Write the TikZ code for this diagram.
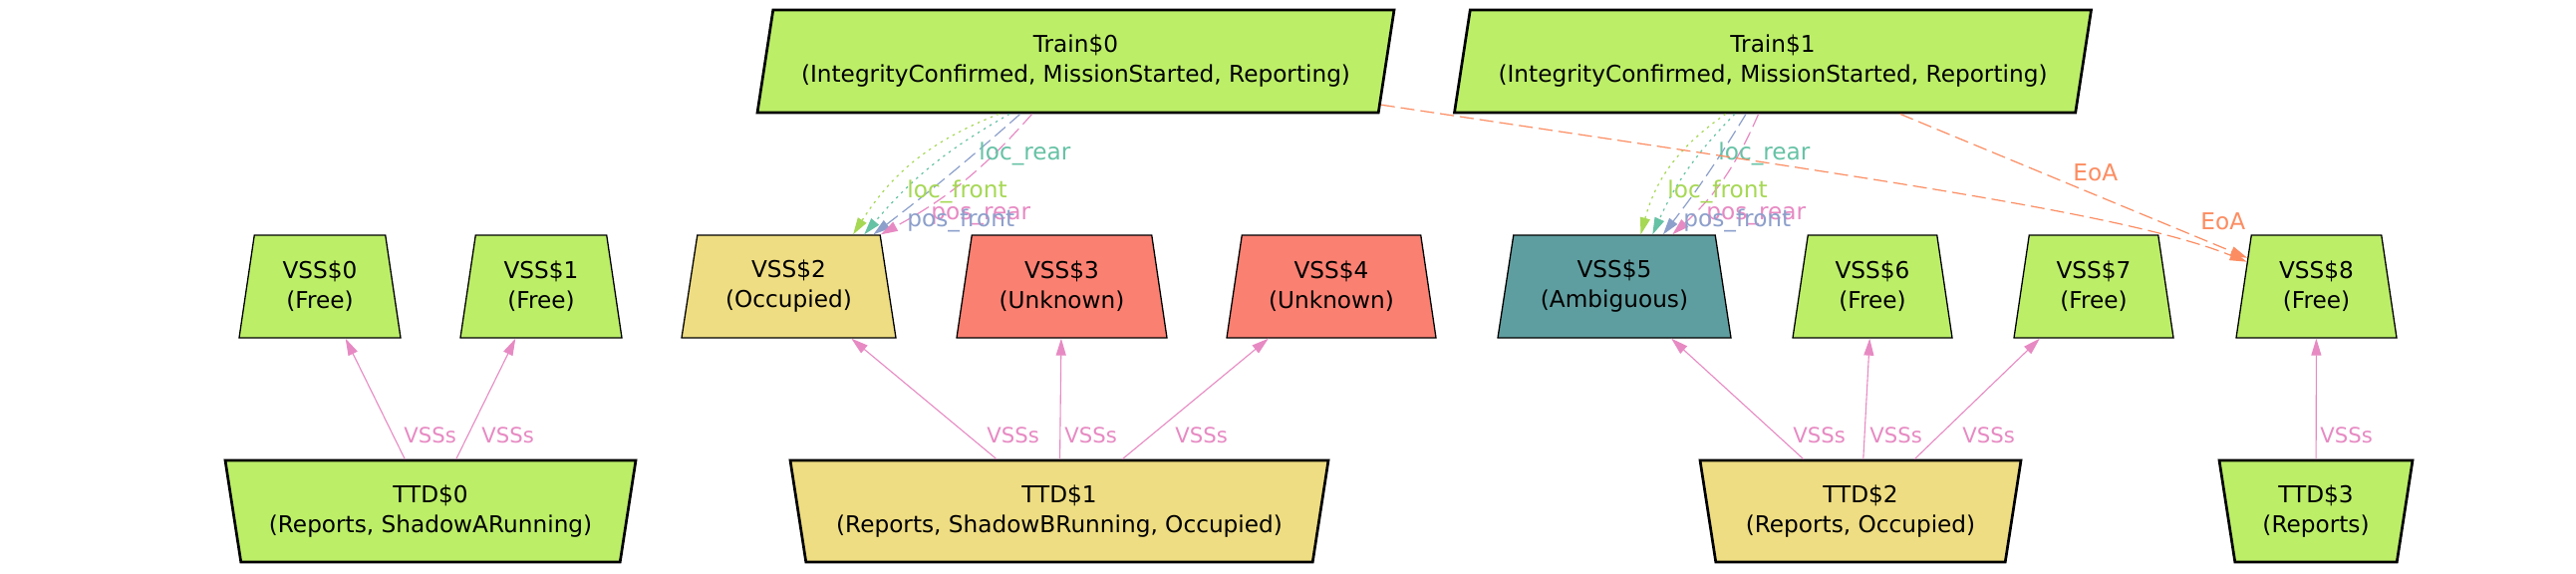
\documentclass[tikz,border=0pt]{standalone}
\usepackage{fontspec}
\setmainfont{DejaVu Sans}
\usetikzlibrary{shapes.geometric, arrows.meta, calc}

\definecolor{ngreen}{HTML}{BCEE68}
\definecolor{nyellow}{HTML}{EEDD82}
\definecolor{nsalmon}{HTML}{FA8072}
\definecolor{ncadet}{HTML}{5F9EA0}
\definecolor{cteal}{HTML}{66C2A5}
\definecolor{corange}{HTML}{FC8D62}
\definecolor{cblue}{HTML}{8DA0CB}
\definecolor{cpink}{HTML}{E78AC3}
\definecolor{cgreen}{HTML}{A6D854}

\tikzset{
  nodetext/.style={font=\fontsize{11.6}{15}\selectfont, align=center, inner sep=0pt, text=black},
  vssbox/.style={nodetext, draw=black, line width=0.65pt, shape=trapezium,
    trapezium left angle=73.25, trapezium right angle=73.25,
    trapezium stretches body, minimum height=51.5pt},
  ttdbox/.style={nodetext, draw=black, line width=1.35pt, shape=trapezium,
    trapezium left angle=106.75, trapezium right angle=106.75,
    trapezium stretches body, minimum height=51pt},
  trainbox/.style={nodetext, draw=black, line width=1.35pt, shape=trapezium,
    trapezium left angle=73.25, trapezium right angle=106.75,
    trapezium stretches body, minimum height=51.5pt},
  tip/.style={-{Triangle[length=8.5pt,width=5pt]}},
  vssedge/.style={tip, draw=cpink, line width=0.55pt},
  dotline/.style={tip, line width=0.6pt, dash pattern=on 1.2pt off 2.3pt},
  dashline/.style={tip, line width=0.6pt, dash pattern=on 7pt off 3pt},
  lbl/.style={font=\fontsize{11.6}{14}\selectfont, inner sep=0pt, anchor=base west},
  vsslbl/.style={lbl, font=\fontsize{10.6}{13}\selectfont, text=cpink},
}

\begin{document}
\begin{tikzpicture}[x=0.5pt, y=-0.5pt]
\useasboundingbox (0,0) rectangle (2585,575);
\fill[white] (0,0) rectangle (2585,575);

% Trains
\node[trainbox, fill=ngreen, minimum width=319.5pt] (train0) at (1079.5,61.5)
  {Train\$0\\(IntegrityConfirmed, MissionStarted, Reporting)};
\node[trainbox, fill=ngreen, minimum width=319.5pt] (train1) at (1779,61.5)
  {Train\$1\\(IntegrityConfirmed, MissionStarted, Reporting)};

% VSS
\node[vssbox, fill=ngreen,   minimum width=81pt]    (vss0) at (321,287.5)    {VSS\$0\\(Free)};
\node[vssbox, fill=ngreen,   minimum width=81pt]    (vss1) at (543,287.5)    {VSS\$1\\(Free)};
\node[vssbox, fill=nyellow,  minimum width=107.5pt] (vss2) at (791.5,287.5)  {VSS\$2\\(Occupied)};
\node[vssbox, fill=nsalmon,  minimum width=105.5pt] (vss3) at (1065.5,287.5) {VSS\$3\\(Unknown)};
\node[vssbox, fill=nsalmon,  minimum width=105pt]   (vss4) at (1336,287.5)   {VSS\$4\\(Unknown)};
\node[vssbox, fill=ncadet,   minimum width=117pt]   (vss5) at (1620,287.5)   {VSS\$5\\(Ambiguous)};
\node[vssbox, fill=ngreen,   minimum width=80pt]    (vss6) at (1879,287.5)   {VSS\$6\\(Free)};
\node[vssbox, fill=ngreen,   minimum width=80pt]    (vss7) at (2101,287.5)   {VSS\$7\\(Free)};
\node[vssbox, fill=ngreen,   minimum width=80.5pt]  (vss8) at (2324.5,287.5) {VSS\$8\\(Free)};

% TTD
\node[ttdbox, fill=ngreen,  minimum width=206pt] (ttd0) at (432,513)  {TTD\$0\\(Reports, ShadowARunning)};
\node[ttdbox, fill=nyellow, minimum width=270pt] (ttd1) at (1063,513) {TTD\$1\\(Reports, ShadowBRunning, Occupied)};
\node[ttdbox, fill=nyellow, minimum width=161pt] (ttd2) at (1867,513) {TTD\$2\\(Reports, Occupied)};
\node[ttdbox, fill=ngreen,  minimum width=97pt]  (ttd3) at (2324,513) {TTD\$3\\(Reports)};

% TTD -> VSS edges
\draw[vssedge] (ttd0) -- (vss0);
\draw[vssedge] (ttd0) -- (vss1);
\draw[vssedge] (ttd1) -- (vss2);
\draw[vssedge] (ttd1) -- (vss3);
\draw[vssedge] (ttd1) -- (vss4);
\draw[vssedge] (ttd2) -- (vss5);
\draw[vssedge] (ttd2) -- (vss6);
\draw[vssedge] (ttd2) -- (vss7);
\draw[vssedge] (ttd3) -- (vss8);

\node[vsslbl] (l00) at (405,444)  {VSSs};
\node[vsslbl] (l01) at (483,444)  {VSSs};
\node[vsslbl] (l12) at (990,444)  {VSSs};
\node[vsslbl] (l13) at (1068,444) {VSSs};
\node[vsslbl] (l14) at (1179,444) {VSSs};
\node[vsslbl] (l25) at (1799,444) {VSSs};
\node[vsslbl] (l26) at (1876,444) {VSSs};
\node[vsslbl] (l27) at (1969,444) {VSSs};
\node[vsslbl] (l38) at (2328,444) {VSSs};

% Train0 -> VSS2
\draw[dotline, draw=cgreen]
  ($(train0.bottom left corner)!0.39!(train0.bottom right corner)$) to[bend right=18]
  ($(vss2.top left corner)!0.85!(vss2.top right corner)$);
\draw[dotline, draw=cteal]
  ($(train0.bottom left corner)!0.407!(train0.bottom right corner)$) to[bend right=10]
  ($(vss2.top left corner)!0.91!(vss2.top right corner)$);
\draw[dashline, draw=cblue]
  ($(train0.bottom left corner)!0.424!(train0.bottom right corner)$) to[bend left=2]
  ($(vss2.top left corner)!0.96!(vss2.top right corner)$);
\draw[dashline, draw=cpink]
  ($(train0.bottom left corner)!0.443!(train0.bottom right corner)$) to[bend left=10]
  ($(vss2.top left corner)!1.0!(vss2.top right corner)$);

\node[lbl, text=cteal]  (a0lr) at (982,160)  {loc\_rear};
\node[lbl, text=cgreen] (a0lf) at (910,198)  {loc\_front};
\node[lbl, text=cpink]  (a0pr) at (934,220)  {pos\_rear};
\node[lbl, text=cblue]  (a0pf) at (910,227)  {pos\_front};

% Train1 -> VSS5
\draw[dotline, draw=cgreen]
  ($(train1.bottom left corner)!0.4375!(train1.bottom right corner)$) to[bend right=20]
  ($(vss5.top left corner)!0.63!(vss5.top right corner)$);
\draw[dotline, draw=cteal]
  ($(train1.bottom left corner)!0.452!(train1.bottom right corner)$) to[bend right=10]
  ($(vss5.top left corner)!0.688!(vss5.top right corner)$);
\draw[dashline, draw=cblue]
  ($(train1.bottom left corner)!0.47!(train1.bottom right corner)$) to[bend left=3]
  ($(vss5.top left corner)!0.74!(vss5.top right corner)$);
\draw[dashline, draw=cpink]
  ($(train1.bottom left corner)!0.49!(train1.bottom right corner)$) to[bend left=12]
  ($(vss5.top left corner)!0.786!(vss5.top right corner)$);

\node[lbl, text=cteal]  (a1lr) at (1724,160) {loc\_rear};
\node[lbl, text=cgreen] (a1lf) at (1673,198) {loc\_front};
\node[lbl, text=cpink]  (a1pr) at (1712,220) {pos\_rear};
\node[lbl, text=cblue]  (a1pf) at (1689,227) {pos\_front};

% EoA edges
\coordinate (eoaS) at ($(train0.bottom right corner)!0.087!(train0.top right corner)$);
\coordinate (eoaE) at ($(vss8.top left corner)!0.262!(vss8.bottom left corner)$);
\draw[dashline, draw=corange]
  (eoaS) .. controls ($(eoaS)+(500,75)$) and ($(eoaE)+(-120,-48)$) .. (eoaE);
\draw[dashline, draw=corange] (train1) -- (vss8);

\node[lbl, text=corange] (e1) at (2080,181) {EoA};
\node[lbl, text=corange] (e0) at (2208,230) {EoA};
\end{tikzpicture}
\end{document}
